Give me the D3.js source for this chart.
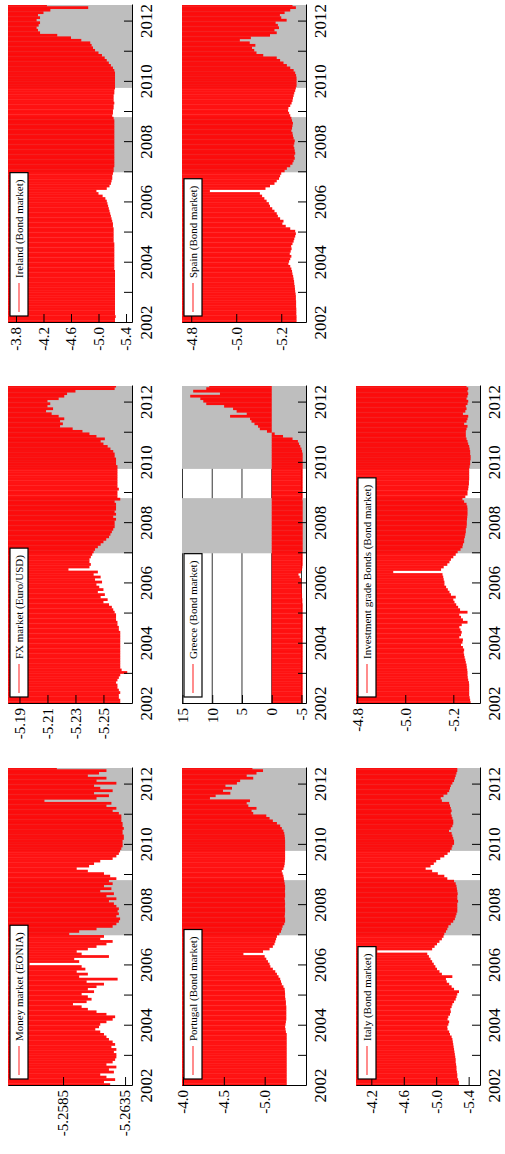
<!DOCTYPE html>
<html><head><meta charset="utf-8">
<script src="https://cdn.jsdelivr.net/npm/d3@7"></script>
<style>body{margin:0;background:#fff}svg{display:block}</style>
</head><body>
<svg id="c" width="505" height="1154"></svg>
<script>
// ---------- data (monthly observations, Jan 2002 .. Jul 2012) ----------
const startYear = 2002;
const endYear = 2012.55;
const yearTicks = [2002,2003,2004,2005,2006,2007,2008,2009,2010,2011,2012];
const yearLabels = [2002,2004,2006,2008,2010,2012];
const crisisPeriods = [[2007.0, 2008.83], [2009.8, 2012.55]];

const moneyValues = [
 -5.2623,-5.2618,-5.2627,-5.2620,-5.2615,-5.2626,-5.2622,-5.2628,-5.2620,-5.2625,-5.2627,-5.2628,
 -5.2628,-5.2626,-5.2628,-5.2624,-5.2627,-5.2625,-5.2622,-5.2620,-5.2618,-5.2615,-5.2611,-5.2614,
 -5.2615,-5.2620,-5.2625,-5.2627,-5.2620,-5.2612,-5.2605,-5.2600,-5.2593,-5.2604,-5.2608,-5.2605,
 -5.2600,-5.2610,-5.2605,-5.2612,-5.2618,-5.2604,-5.2629,-5.2598,-5.2605,-5.2596,-5.2603,-5.2600,
 -5.2558,-5.2598,-5.2594,-5.2622,-5.2600,-5.2596,-5.2605,-5.2612,-5.2620,-5.2625,-5.2615,-5.2618,
 -5.2590,-5.2598,-5.2612,-5.2625,-5.2628,-5.2630,-5.2631,-5.2628,-5.2630,-5.2629,-5.2630,-5.2628,
 -5.2626,-5.2622,-5.2628,-5.2620,-5.2626,-5.2615,-5.2624,-5.2618,-5.2625,-5.2622,-5.2628,-5.2623,
 -5.2618,-5.2605,-5.2596,-5.2606,-5.2610,-5.2615,-5.2625,-5.2628,-5.2630,-5.2631,-5.2632,-5.2633,
 -5.2633,-5.2633,-5.2634,-5.2634,-5.2633,-5.2633,-5.2634,-5.2633,-5.2633,-5.2632,-5.2632,-5.2632,
 -5.2630,-5.2625,-5.2628,-5.2620,-5.2624,-5.2570,-5.2612,-5.2622,-5.2610,-5.2625,-5.2615,-5.2610,
 -5.2628,-5.2612,-5.2620,-5.2605,-5.2614,-5.2620,-5.2580];

const fxValues = [
 -5.262,-5.262,-5.261,-5.261,-5.262,-5.261,-5.260,-5.260,-5.259,-5.260,-5.261,-5.262,
 -5.267,-5.263,-5.262,-5.262,-5.262,-5.262,-5.262,-5.262,-5.262,-5.262,-5.262,-5.262,
 -5.262,-5.262,-5.262,-5.262,-5.262,-5.261,-5.261,-5.260,-5.260,-5.259,-5.259,-5.259,
 -5.258,-5.257,-5.256,-5.254,-5.250,-5.253,-5.248,-5.251,-5.246,-5.250,-5.247,-5.245,
 -5.249,-5.244,-5.248,-5.243,-5.246,-5.225,-5.240,-5.241,-5.240,-5.240,-5.241,-5.242,
 -5.243,-5.244,-5.246,-5.248,-5.250,-5.252,-5.254,-5.255,-5.256,-5.257,-5.258,-5.258,
 -5.258,-5.259,-5.257,-5.259,-5.258,-5.259,-5.259,-5.259,-5.258,-5.262,-5.260,-5.260,
 -5.260,-5.261,-5.260,-5.260,-5.260,-5.260,-5.260,-5.260,-5.260,-5.260,-5.260,-5.259,
 -5.259,-5.259,-5.258,-5.258,-5.257,-5.255,-5.253,-5.250,-5.248,-5.251,-5.245,-5.240,
 -5.235,-5.228,-5.219,-5.221,-5.219,-5.222,-5.218,-5.213,-5.209,-5.214,-5.210,-5.212,
 -5.210,-5.218,-5.222,-5.224,-5.230,-5.258,-5.259];

const irelandValues = [
 -5.24,-5.24,-5.25,-5.24,-5.24,-5.24,-5.24,-5.24,-5.24,-5.24,-5.24,-5.24,
 -5.24,-5.24,-5.24,-5.24,-5.24,-5.24,-5.24,-5.24,-5.24,-5.23,-5.23,-5.23,
 -5.23,-5.23,-5.23,-5.23,-5.23,-5.23,-5.23,-5.23,-5.22,-5.22,-5.22,-5.22,
 -5.22,-5.22,-5.21,-5.21,-5.20,-5.19,-5.18,-5.17,-5.16,-5.15,-5.14,-5.13,
 -5.12,-5.10,-5.06,-5.00,-4.97,-5.12,-5.16,-5.18,-5.19,-5.20,-5.20,-5.21,
 -5.22,-5.22,-5.23,-5.23,-5.23,-5.23,-5.23,-5.23,-5.23,-5.23,-5.23,-5.23,
 -5.23,-5.23,-5.23,-5.23,-5.23,-5.23,-5.23,-5.23,-5.23,-5.22,-5.20,-5.21,
 -5.21,-5.22,-5.22,-5.23,-5.22,-5.22,-5.22,-5.23,-5.23,-5.24,-5.24,-5.24,
 -5.24,-5.24,-5.24,-5.24,-5.23,-5.21,-5.18,-5.15,-5.12,-5.09,-5.05,-5.00,
 -4.95,-4.92,-4.90,-4.88,-4.75,-4.60,-4.40,-4.15,-4.12,-4.10,-4.13,-4.15,
 -4.10,-4.15,-4.12,-4.20,-4.30,-4.85,-4.25];

const portugalValues = [
 -5.27,-5.27,-5.27,-5.27,-5.27,-5.27,-5.27,-5.27,-5.27,-5.27,-5.27,-5.27,
 -5.27,-5.27,-5.27,-5.27,-5.27,-5.27,-5.27,-5.27,-5.27,-5.26,-5.255,-5.25,
 -5.255,-5.26,-5.265,-5.265,-5.265,-5.265,-5.265,-5.265,-5.26,-5.26,-5.255,-5.25,
 -5.25,-5.248,-5.245,-5.23,-5.21,-5.20,-5.19,-5.17,-5.15,-5.13,-5.10,-5.07,
 -5.06,-5.04,-5.02,-5.00,-4.74,-4.98,-5.06,-5.10,-5.12,-5.13,-5.14,-5.15,
 -5.18,-5.20,-5.21,-5.22,-5.24,-5.25,-5.25,-5.245,-5.248,-5.25,-5.25,-5.248,
 -5.25,-5.248,-5.245,-5.25,-5.25,-5.248,-5.25,-5.25,-5.245,-5.24,-5.235,-5.23,
 -5.22,-5.21,-5.23,-5.24,-5.245,-5.248,-5.25,-5.25,-5.25,-5.25,-5.25,-5.25,
 -5.25,-5.25,-5.248,-5.245,-5.24,-5.23,-5.21,-5.19,-5.15,-5.10,-5.06,-5.02,
 -4.86,-4.84,-4.90,-4.80,-4.78,-4.82,-4.33,-4.40,-4.58,-4.49,-4.60,-4.52,
 -4.66,-4.70,-4.86,-4.78,-4.90,-4.98,-4.85];

const greeceValues = [
 -5.2,-5.2,-5.2,-5.2,-5.2,-5.2,-5.2,-5.2,-5.2,-5.2,-5.2,-5.2,
 -5.2,-5.2,-5.2,-5.2,-5.2,-5.2,-5.2,-5.2,-5.2,-5.2,-5.2,-5.2,
 -5.2,-5.2,-5.2,-5.2,-5.2,-5.2,-5.2,-5.2,-5.2,-5.2,-5.2,-5.2,
 -5.2,-5.2,-5.2,-5.2,-5.15,-5.15,-5.1,-5.1,-5.05,-5.05,-5.0,-5.0,
 -5.0,-4.95,-4.7,-4.5,-4.9,-5.1,-5.15,-5.2,-5.2,-5.2,-5.2,-5.2,
 -5.2,-5.2,-5.2,-5.2,-5.2,-5.2,-5.2,-5.2,-5.2,-5.2,-5.2,-5.2,
 -5.2,-5.2,-5.2,-5.2,-5.2,-5.2,-5.2,-5.2,-5.2,-5.15,-5.2,-5.2,
 -5.2,-5.2,-5.2,-5.2,-5.2,-5.2,-5.2,-5.2,-5.2,-5.2,-5.2,-5.2,
 -5.2,-5.2,-5.2,-5.2,-5.1,-5.0,-4.8,-4.6,-4.4,-3.5,-1.9,-0.5,
 0.8,2.0,2.3,2.9,3.4,3.65,7.0,4.2,5.9,6.5,8.0,11.0,
 11.5,12.0,13.7,8.7,13.2,11.0,10.5];

const spainValues = [
 -5.268,-5.268,-5.268,-5.267,-5.267,-5.267,-5.266,-5.266,-5.266,-5.265,-5.265,-5.264,
 -5.262,-5.261,-5.260,-5.258,-5.257,-5.255,-5.253,-5.250,-5.248,-5.245,-5.240,-5.232,
 -5.235,-5.240,-5.245,-5.238,-5.242,-5.246,-5.244,-5.250,-5.255,-5.258,-5.262,-5.265,
 -5.262,-5.240,-5.220,-5.205,-5.210,-5.195,-5.185,-5.180,-5.170,-5.160,-5.150,-5.145,
 -5.135,-5.125,-5.115,-5.105,-4.883,-5.130,-5.150,-5.170,-5.180,-5.190,-5.195,-5.200,
 -5.215,-5.225,-5.240,-5.250,-5.255,-5.260,-5.258,-5.262,-5.260,-5.258,-5.255,-5.258,
 -5.260,-5.255,-5.252,-5.250,-5.245,-5.248,-5.250,-5.252,-5.248,-5.245,-5.240,-5.235,
 -5.230,-5.232,-5.240,-5.246,-5.250,-5.252,-5.255,-5.258,-5.262,-5.265,-5.268,-5.268,
 -5.268,-5.268,-5.266,-5.262,-5.255,-5.240,-5.225,-5.210,-5.195,-5.180,-5.120,-5.090,
 -5.080,-5.070,-5.085,-5.060,-5.016,-5.065,-5.150,-5.180,-5.170,-5.190,-5.185,-5.175,
 -5.224,-5.200,-5.194,-5.215,-5.240,-5.265,-5.250];

const italyValues = [
 -5.28,-5.28,-5.27,-5.26,-5.26,-5.255,-5.25,-5.25,-5.245,-5.24,-5.24,-5.235,
 -5.23,-5.225,-5.22,-5.215,-5.21,-5.205,-5.20,-5.19,-5.17,-5.16,-5.14,-5.137,
 -5.15,-5.16,-5.14,-5.15,-5.17,-5.18,-5.175,-5.19,-5.20,-5.22,-5.24,-5.25,
 -5.26,-5.281,-5.22,-5.19,-5.16,-5.13,-5.12,-5.199,-5.07,-5.04,-5.01,-4.99,
 -4.97,-4.95,-4.93,-4.91,-4.89,-4.274,-4.95,-4.98,-5.01,-5.04,-5.07,-5.09,
 -5.10,-5.12,-5.137,-5.15,-5.18,-5.21,-5.23,-5.24,-5.25,-5.26,-5.26,-5.26,
 -5.26,-5.27,-5.26,-5.26,-5.265,-5.26,-5.255,-5.25,-5.24,-5.22,-5.137,-5.10,
 -5.02,-4.95,-4.87,-4.93,-4.97,-5.00,-5.05,-5.10,-5.14,-5.17,-5.19,-5.20,
 -5.22,-5.22,-5.21,-5.20,-5.19,-5.158,-5.18,-5.20,-5.21,-5.21,-5.20,-5.19,
 -5.18,-5.19,-5.18,-5.17,-5.16,-5.07,-5.056,-5.09,-5.137,-5.16,-5.17,-5.18,
 -5.20,-5.22,-5.23,-5.24,-5.25,-5.26,-5.26];

const igBondsValues = [
 -5.272,-5.270,-5.268,-5.266,-5.266,-5.266,-5.266,-5.266,-5.265,-5.262,-5.260,-5.259,
 -5.259,-5.258,-5.256,-5.255,-5.252,-5.250,-5.247,-5.245,-5.243,-5.245,-5.240,-5.232,
 -5.238,-5.240,-5.225,-5.232,-5.235,-5.230,-5.225,-5.235,-5.259,-5.240,-5.232,-5.225,
 -5.259,-5.228,-5.220,-5.212,-5.205,-5.200,-5.210,-5.190,-5.184,-5.177,-5.170,-5.163,
 -5.163,-5.160,-5.158,-5.155,-4.950,-5.149,-5.160,-5.175,-5.184,-5.190,-5.200,-5.210,
 -5.218,-5.230,-5.238,-5.240,-5.245,-5.245,-5.248,-5.250,-5.252,-5.252,-5.255,-5.256,
 -5.256,-5.257,-5.258,-5.259,-5.259,-5.259,-5.258,-5.255,-5.245,-5.238,-5.250,-5.259,
 -5.259,-5.262,-5.263,-5.265,-5.265,-5.266,-5.266,-5.266,-5.266,-5.266,-5.268,-5.270,
 -5.270,-5.272,-5.272,-5.270,-5.270,-5.268,-5.266,-5.262,-5.259,-5.255,-5.252,-5.252,
 -5.252,-5.255,-5.259,-5.245,-5.255,-5.259,-5.262,-5.240,-5.250,-5.255,-5.252,-5.259,
 -5.262,-5.255,-5.259,-5.262,-5.259,-5.262,-5.255];

const moneyTicks = [-5.2585, -5.2635];
const moneyTickLabels = ["-5.2585", "-5.2635"];
const fxTicks = [-5.19, -5.21, -5.23, -5.25];
const fxTickLabels = ["-5.19", "-5.21", "-5.23", "-5.25"];
const irelandTicks = [-3.8, -4.2, -4.6, -5.0, -5.4];
const irelandTickLabels = ["-3.8", "-4.2", "-4.6", "-5.0", "-5.4"];
const portugalTicks = [-4.0, -4.5, -5.0];
const portugalTickLabels = ["-4.0", "-4.5", "-5.0"];
const greeceTicks = [15, 10, 5, 0, -5];
const greeceTickLabels = ["15", "10", "5", "0", "-5"];
const spainTicks = [-4.8, -5.0, -5.2];
const spainTickLabels = ["-4.8", "-5.0", "-5.2"];
const italyTicks = [-4.2, -4.6, -5.0, -5.4];
const italyTickLabels = ["-4.2", "-4.6", "-5.0", "-5.4"];
const igTicks = [-4.8, -5.0, -5.2];
const igTickLabels = ["-4.8", "-5.0", "-5.2"];

// ---------- panel table ----------
const panels = [
 {name:"Money market (EONIA)", values:moneyValues, ticks:moneyTicks, labels:moneyTickLabels, domain:[-5.26406,-5.25406], col:0, row:0},
 {name:"FX market (Euro/USD)", values:fxValues, ticks:fxTicks, labels:fxTickLabels, domain:[-5.2704,-5.1818], col:1, row:0},
 {name:"Ireland (Bond market)", values:irelandValues, ticks:irelandTicks, labels:irelandTickLabels, domain:[-5.487,-3.684], col:2, row:0},
 {name:"Portugal (Bond market)", values:portugalValues, ticks:portugalTicks, labels:portugalTickLabels, domain:[-5.506,-3.988], col:0, row:1},
 {name:"Greece (Bond market)", values:greeceValues, ticks:greeceTicks, labels:greeceTickLabels, domain:[-5.76,15.08], col:1, row:1, grid:true},
 {name:"Spain (Bond market)", values:spainValues, ticks:spainTicks, labels:spainTickLabels, domain:[-5.310,-4.759], col:2, row:1},
 {name:"Italy (Bond market)", values:italyValues, ticks:italyTicks, labels:italyTickLabels, domain:[-5.540,-4.011], col:0, row:2},
 {name:"Investment grade Bonds (Bond market)", values:igBondsValues, ticks:igTicks, labels:igTickLabels, domain:[-5.311,-4.795], col:1, row:2}
];

// ---------- layout (landscape figure, rotated onto the portrait page) ----------
const colX = [68, 450, 831], rowY = [8, 182, 356];
const PW = 318, PH = 124;
const FONT = "'Liberation Serif','Times New Roman',Times,serif";
const RED = "#ff0000", GRAY = "#bebebe";

const svg = d3.select("#c");
const root = svg.append("g").attr("transform", "translate(0,1154) rotate(-90)");
const defs = svg.append("defs");

panels.forEach((p, i) => {
  const x0 = colX[p.col], y0 = rowY[p.row];
  const x = d3.scaleLinear().domain([startYear, endYear]).range([x0, x0 + PW]);
  const y = d3.scaleLinear().domain(p.domain).range([y0 + PH, y0]).clamp(true);
  const pg = root.append("g");

  defs.append("clipPath").attr("id", "clip" + i).append("rect")
    .attr("x", x0).attr("y", y0).attr("width", PW).attr("height", PH);
  const inner = pg.append("g").attr("clip-path", `url(#clip${i})`);

  if (p.grid) {
    inner.append("g").selectAll("line").data(p.ticks).join("line")
      .attr("x1", x0).attr("x2", x0 + PW)
      .attr("y1", d => y(d)).attr("y2", d => y(d))
      .attr("stroke", "#333").attr("stroke-width", 1);
  }

  inner.append("g").selectAll("rect").data(crisisPeriods).join("rect")
    .attr("x", d => x(d[0])).attr("width", d => x(d[1]) - x(d[0]))
    .attr("y", y0).attr("height", PH).attr("fill", GRAY);

  // time axis (bottom) with inward ticks
  const xa = pg.append("g").attr("transform", `translate(0,${y0 + PH})`)
    .call(d3.axisBottom(x).tickValues(yearTicks).tickSizeInner(-8).tickSizeOuter(0).tickPadding(8)
      .tickFormat(d => yearLabels.includes(d) ? String(d) : ""));
  xa.selectAll("text").attr("font-family", FONT).attr("font-size", 17).attr("fill", "#000");
  xa.selectAll("line,path").attr("stroke", "#000").attr("stroke-width", 1);

  // value axis (left) with inward ticks
  const ya = pg.append("g").attr("transform", `translate(${x0},0)`)
    .call(d3.axisLeft(y).tickValues(p.ticks).tickSizeInner(-9).tickSizeOuter(0).tickPadding(4)
      .tickFormat((d, k) => p.labels[k]));
  ya.selectAll("text").attr("font-family", FONT).attr("font-size", 15).attr("fill", "#000");
  ya.selectAll("line,path").attr("stroke", "#000").attr("stroke-width", 1);

  // red spikes from 0 to the value (one per observation)
  const t = k => startYear + k / 12;
  inner.append("g").selectAll("rect").data(p.values).join("rect")
    .attr("x", (d, k) => x(t(k)))
    .attr("width", (d, k) => x(t(k + 1)) - x(t(k)) + 0.25)
    .attr("y", d => y(Math.max(0, d)))
    .attr("height", d => Math.abs(y(Math.min(0, d)) - y(Math.max(0, d))))
    .attr("fill", RED).attr("fill-opacity", 0.93);

  // legend
  const lx = x0 + 7, ly = y0 + 2;
  const lg = pg.append("g");
  const box = lg.append("rect");
  lg.append("line").attr("x1", lx + 4).attr("x2", lx + 33).attr("y1", ly + 9).attr("y2", ly + 9)
    .attr("stroke", "#ff4040").attr("stroke-width", 1.2);
  const txt = lg.append("text").attr("x", lx + 38).attr("y", ly + 13)
    .attr("font-family", FONT).attr("font-size", 11).attr("fill", "#000").text(p.name);
  const tw = txt.node().getComputedTextLength();
  box.attr("x", lx).attr("y", ly).attr("width", tw + 45).attr("height", 18)
    .attr("fill", "#fff").attr("stroke", "#000").attr("stroke-width", 1.2);
});
</script>
</body></html>
